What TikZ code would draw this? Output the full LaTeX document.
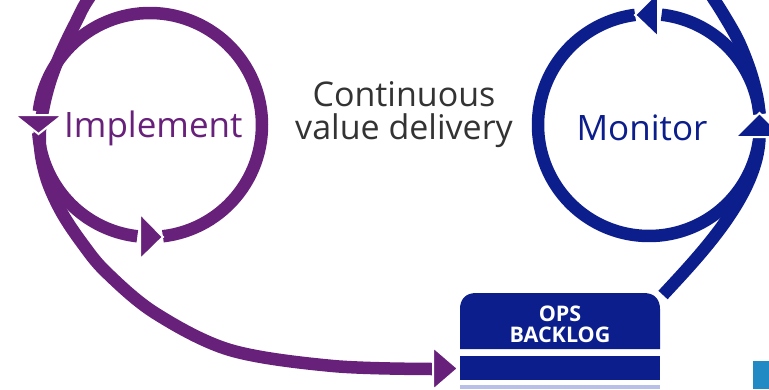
\documentclass[tikz,border=0pt]{standalone}
\usepackage{fontspec}
\setmainfont{Open Sans}
\definecolor{impurple}{HTML}{68217A}
\definecolor{monblue}{HTML}{0C1E8C}
\definecolor{txtgray}{HTML}{333333}
\definecolor{lightbar}{HTML}{B8C0E8}
\definecolor{cornerblue}{HTML}{2189C4}
\begin{document}
\begin{tikzpicture}[x=1pt,y=-1pt,
  pline/.style={draw=impurple, line width=12.5pt},
  bline/.style={draw=monblue, line width=12.5pt},
  phead/.style={fill=impurple, draw=white, line width=2pt},
  bhead/.style={fill=monblue, draw=white, line width=2pt},
  bigtext/.style={font=\fontsize{35}{40}\selectfont, inner sep=0pt},
]
\useasboundingbox (0,0) rectangle (769,389);
\fill[white] (0,0) rectangle (769,389);

% named points
\coordinate (pc) at (150,125);
\coordinate (bc) at (649,125);
\coordinate (pin) at (433,369);
\coordinate (bcorner) at (663,295);
\coordinate (bright) at (759.5,137);
\coordinate (btip) at (759.5,114);

% ---------- purple cycle ----------
\draw[pline] plot[domain=-173:83.4, samples=90, variable=\t] ({150+112*cos(\t)},{125+112*sin(\t)});
\draw[pline] plot[domain=96.5:176, samples=40, variable=\t] ({150+112*cos(\t)},{125+112*sin(\t)});
\draw[pline] plot[smooth, tension=0.55] coordinates {(93,-8) (84,6) (76,22) (67,40) (58,60) (50,82) (44,105) (40,130) (41,155) (48,183) (62,213) (82,243) (106,272) (155,313) (230,350) (333,366) (pin)};

% ---------- blue cycle ----------
\draw[bline] plot[domain=-352.5:-97.2, samples=120, variable=\t] ({649+111*cos(\t)},{125+111*sin(\t)});
\draw[bline] plot[domain=-83.5:-5.7, samples=40, variable=\t] ({649+111*cos(\t)},{125+111*sin(\t)});
\draw[bline] plot[smooth, tension=0.55] coordinates {(709,-8) (722,12) (738,40) (750,70) (757,96) (btip)};
\draw[bline] (bcorner) .. controls (700,255) and (758,195) .. (bright);

% ---------- arrowheads ----------
\filldraw[phead] (14.5,115) -- (62.5,115) -- (38.5,134) -- cycle;
\filldraw[phead] (140,213.5) -- (140,259.5) -- (163,237) -- cycle;
\filldraw[phead] (433,347) -- (433,390) -- (458,368.5) -- cycle;
\filldraw[bhead] (658,-8) -- (658,37) -- (635,15) -- cycle;
\filldraw[bhead] (735.5,137) -- (783.5,137) -- (759.5,113) -- cycle;

% ---------- backlog ----------
\fill[monblue] (460,349) -- (460,309) .. controls (460,300) and (465,293) .. (476,293) -- (644,293) .. controls (655,293) and (660,300) .. (660,309) -- (660,349) -- cycle;
\fill[monblue] (460,356) rectangle (660,380);
\fill[lightbar] (460,385) rectangle (660,389);
\node[font=\bfseries\fontsize{21.5}{21}\selectfont, text=white, align=center, inner sep=0pt] (bl) at (560,324) {OPS\\BACKLOG};

% corner fragment
\fill[cornerblue] (753,361) rectangle (769,389);

% ---------- labels ----------
\node[bigtext, text=impurple, anchor=base west] (impl) at (64,137) {Implement};
\node[bigtext, text=monblue, anchor=base] (mon) at (642,140) {Monitor};
\node[font=\fontsize{34}{33}\selectfont, text=txtgray, align=center, inner sep=0pt] (cvd) at (404,115) {Continuous\\value delivery};
\end{tikzpicture}
\end{document}
